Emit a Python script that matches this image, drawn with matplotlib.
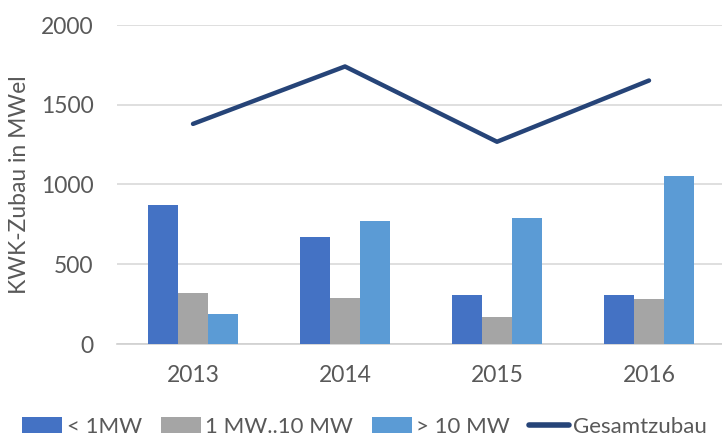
import numpy as np
import matplotlib
matplotlib.use("Agg")
import matplotlib.pyplot as plt

plt.rcParams['font.family'] = ['Lato', 'DejaVu Sans']

# Data
years = ["2013", "2014", "2015", "2016"]
small = [870, 668, 307, 307]        # < 1MW
medium = [320, 287, 168, 282]       # 1 MW..10 MW
large = [191, 771, 792, 1056]       # > 10 MW
total = [1380, 1740, 1268, 1652]    # Gesamtzubau

series_labels = ["< 1MW", "1 MW..10 MW", "> 10 MW", "Gesamtzubau"]
colors = ["#4472C4", "#A5A5A5", "#5B9BD5", "#264478"]
text_col = "#595959"

fig = plt.figure(figsize=(7.22, 4.36), dpi=100)
ax = fig.add_axes([117 / 722, 1 - 344 / 436, 608 / 722, (344 - 25) / 436])

x = np.arange(len(years))
w = 0.197
b1 = ax.bar(x - w, small, w, color=colors[0], label=series_labels[0], zorder=3)
b2 = ax.bar(x, medium, w, color=colors[1], label=series_labels[1], zorder=3)
b3 = ax.bar(x + w, large, w, color=colors[2], label=series_labels[2], zorder=3)
ln, = ax.plot(x, total, color=colors[3], lw=3.2, solid_capstyle='round',
              label=series_labels[3], zorder=4)

ax.set_xlim(-0.5, 3.5)
ax.set_ylim(0, 2000)
ax.set_yticks([0, 500, 1000, 1500, 2000])
ax.set_xticks(x)
ax.set_xticklabels(years)
ax.yaxis.grid(True, color="#D9D9D9", lw=1.2, zorder=0)
ax.set_axisbelow(True)
for s in ["top", "right", "left"]:
    ax.spines[s].set_visible(False)
ax.spines["bottom"].set_color("#D0D0D0")
ax.spines["bottom"].set_linewidth(1.2)
ax.tick_params(axis="both", length=0, labelsize=16.5, colors=text_col)
ax.tick_params(axis="x", pad=15)
ax.tick_params(axis="y", pad=17)
ax.set_ylabel("KWK-Zubau in MWel", fontsize=16.5, color=text_col)
ax.yaxis.set_label_coords(-0.143, 0.5)

leg = fig.legend(handles=[b1, b2, b3, ln], labels=series_labels, loc="center",
                 bbox_to_anchor=(0.505, 1 - 427 / 436), ncol=4, frameon=False,
                 fontsize=16, labelcolor=text_col, handlelength=1.8, handleheight=0.75,
                 handletextpad=0.2, columnspacing=0.85, borderpad=0.1)
leg.get_lines()[0].set_linewidth(4) if leg.get_lines() else None

fig.savefig("out.png", dpi=100)
